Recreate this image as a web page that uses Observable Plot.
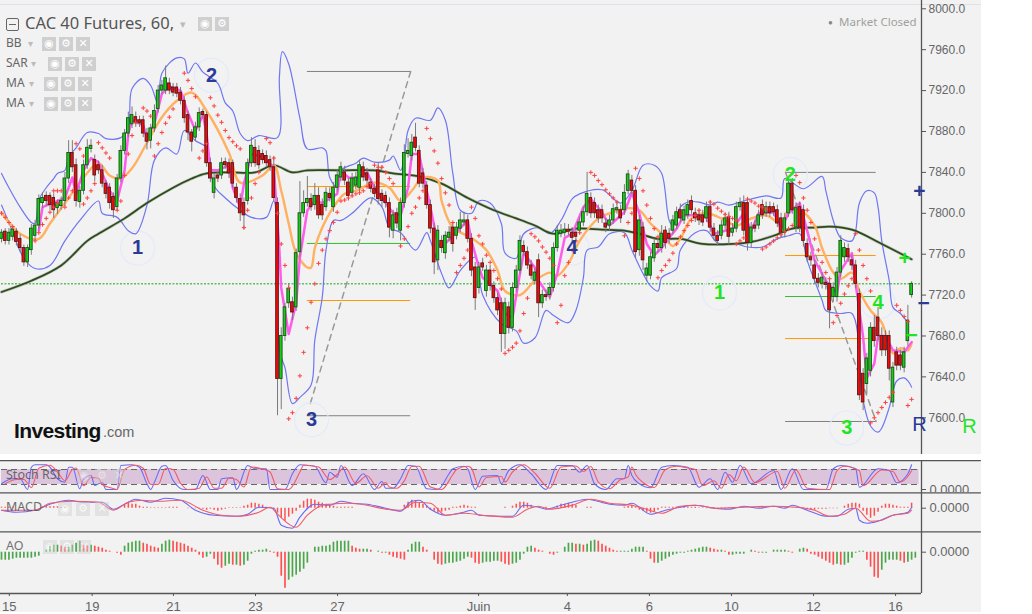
<!DOCTYPE html>
<html>
<head>
<meta charset="utf-8">
<script src="https://cdn.jsdelivr.net/npm/d3@7"></script>
<script src="https://cdn.jsdelivr.net/npm/@observablehq/plot@0.6"></script>
<style>
html,body{margin:0;padding:0;background:#fff;overflow:hidden}
#chart{position:relative;width:1032px;height:614px;background:#fff;overflow:hidden}
#bg{position:absolute;left:0;top:0;width:981px;height:612px;background:#f2f2f2}
#topline{position:absolute;left:0;top:4px;width:981px;height:1px;background:#dde2ea}
#strip{position:absolute;left:0;top:454px;width:1032px;height:6px;background:#fff}
.panel{position:absolute;left:0}
.panel svg{display:block;background:transparent;overflow:hidden}
.lbl{position:absolute;font-family:"Noto Sans",sans-serif;color:#666;white-space:nowrap;line-height:1}
.box{position:absolute;width:14px;height:14px;background:#cfcfcf;color:#fff;font:bold 11px/14px "DejaVu Sans",sans-serif;text-align:center}
</style>
</head>
<body>
<div id="chart"><div id="bg"></div><div id="topline"></div><div id="strip"></div></div>
<script>
const opens=[7775,7782,7773,7777,7782,7775,7766,7752,7764,7778,7788,7810,7817,7817,7815,7805,7807,7812,7834,7859,7847,7811,7822,7847,7863,7852,7847,7842,7829,7825,7816,7806,7834,7861,7878,7887,7894,7891,7891,7878,7871,7883,7902,7920,7920,7927,7923,7923,7918,7910,7896,7879,7874,7884,7899,7896,7849,7820,7837,7837,7850,7849,7849,7825,7814,7810,7812,7849,7864,7861,7858,7856,7852,7845,7810,7638,7680,7712,7713,7708,7762,7800,7810,7814,7808,7817,7808,7806,7819,7806,7825,7835,7840,7830,7820,7827,7825,7845,7839,7830,7824,7842,7819,7817,7810,7783,7800,7783,7810,7858,7856,7874,7861,7839,7827,7808,7785,7754,7773,7761,7776,7786,7778,7785,7791,7793,7775,7747,7727,7751,7724,7744,7729,7717,7712,7682,7708,7688,7727,7744,7768,7762,7749,7734,7754,7712,7720,7720,7727,7766,7780,7781,7784,7781,7781,7783,7791,7801,7815,7810,7803,7803,7790,7788,7793,7803,7803,7803,7822,7832,7822,7764,7786,7739,7739,7756,7770,7766,7783,7780,7783,7788,7803,7793,7798,7812,7800,7798,7798,7795,7806,7785,7778,7778,7788,7796,7781,7785,7806,7810,7810,7771,7788,7788,7808,7800,7806,7806,7803,7795,7781,7800,7829,7786,7806,7803,7770,7757,7749,7736,7731,7732,7731,7718,7718,7742,7757,7765,7754,7749,7721,7643,7633,7646,7688,7698,7680,7680,7680,7615,7664,7661,7649,7675,7720];
const closes=[7781,7773,7781,7784,7772,7766,7752,7766,7785,7788,7814,7815,7812,7808,7803,7810,7812,7834,7859,7845,7812,7822,7847,7864,7866,7837,7842,7829,7819,7810,7803,7834,7861,7878,7893,7896,7888,7888,7878,7870,7883,7900,7920,7925,7932,7920,7918,7917,7910,7893,7879,7870,7884,7898,7896,7849,7834,7834,7834,7849,7847,7839,7829,7815,7800,7798,7849,7866,7849,7847,7852,7849,7845,7815,7638,7680,7708,7726,7703,7761,7800,7810,7814,7806,7817,7798,7798,7820,7815,7825,7837,7845,7832,7817,7834,7835,7847,7835,7832,7824,7819,7814,7812,7810,7786,7798,7790,7810,7859,7861,7869,7864,7829,7829,7808,7785,7752,7783,7766,7778,7781,7770,7786,7793,7793,7775,7744,7717,7747,7747,7744,7729,7717,7705,7682,7712,7688,7727,7744,7773,7762,7749,7739,7742,7712,7720,7718,7727,7766,7783,7783,7784,7782,7776,7777,7791,7801,7819,7800,7800,7795,7795,7786,7793,7804,7805,7795,7820,7838,7822,7762,7793,7754,7746,7757,7770,7766,7780,7771,7775,7793,7801,7795,7803,7808,7803,7795,7793,7791,7806,7786,7778,7773,7788,7795,7777,7785,7806,7810,7783,7771,7786,7785,7798,7798,7806,7800,7801,7790,7781,7795,7829,7803,7805,7786,7773,7757,7754,7736,7732,7737,7730,7705,7727,7742,7773,7766,7757,7749,7731,7622,7615,7658,7688,7675,7680,7666,7666,7648,7649,7651,7651,7664,7695,7731];
const wickUp=[3,3,4,3,3,4,3,3,4,5,4,5,4,3,4,3,4,6,12,12,6,4,5,8,6,5,4,5,3,4,4,4,5,4,6,8,5,4,4,5,4,6,5,5,12,5,4,4,5,4,4,3,5,5,3,3,5,4,4,5,4,4,3,4,5,5,4,8,8,5,4,5,4,10,5,8,4,5,5,4,31,12,22,5,12,8,6,5,6,5,5,5,6,4,5,5,5,5,5,4,4,7,4,4,5,5,5,5,8,12,8,14,5,5,4,5,5,5,5,4,6,5,5,8,8,5,5,5,5,5,5,5,4,5,5,5,5,5,5,5,5,5,5,4,6,5,5,5,5,5,6,6,5,5,5,5,5,21,5,5,5,5,5,5,5,6,5,8,4,5,5,5,5,5,5,5,5,8,4,5,5,5,6,4,5,5,5,5,5,5,6,5,5,5,5,5,5,5,5,7,5,5,5,5,5,5,5,4,5,5,5,6,5,5,5,5,5,5,5,5,5,5,5,5,5,5,5,5,5,5,5,5,5,5,12,10,8,5,5,5,5,5,5,15,2];
const wickDown=[4,4,4,4,4,4,4,5,5,5,4,5,5,5,8,6,4,5,5,5,6,6,4,4,4,6,4,4,5,6,8,4,4,4,4,4,4,4,4,8,8,4,4,4,4,4,4,4,4,5,8,10,4,4,4,4,4,6,4,4,4,5,5,5,8,14,4,4,4,4,4,4,4,4,36,30,5,5,8,4,5,4,4,4,5,4,5,4,4,5,4,4,5,5,4,4,5,4,4,4,4,6,6,5,10,8,5,10,5,4,5,4,4,5,4,5,12,10,5,6,4,8,4,4,4,4,6,12,6,4,6,5,5,5,18,15,6,4,4,4,4,4,4,4,14,5,4,5,4,4,4,4,4,5,5,4,4,4,5,5,5,5,5,5,4,4,5,5,4,4,6,6,10,6,4,4,5,5,6,5,4,4,4,4,4,4,4,5,4,4,5,5,5,4,4,8,4,4,4,5,8,5,4,4,4,4,4,4,4,5,5,4,4,5,5,6,5,6,5,5,5,5,18,5,5,5,5,5,5,5,5,8,10,6,6,5,6,6,12,5,5,5,5,5,3];

const bbUpperBars=[0,2,5,8,9,10,12,14,15,17,18,20,23,26,28,32,34,35,38,40,42,43,47,49,50,52,54,58,60,62,64,66,69,74,74.5,75.3,77,80,82,86,87,88,90,91,95,97,100,104,105,107,108,109,111,115,117,119,121,123,126,128,131,134,135,138,140,144,147,150,153,155,161,166,169,172,175,177,179,180,182,184,187,190,192,195,198,201,205,209,210,215,220,221,223,225,228,229,230,232,234,235,236,238,239,241,243];
const bbUpperVals=[7839,7825,7806,7791,7790,7813,7825,7834,7839,7842,7855,7864,7879,7878,7873,7874,7884,7922,7932,7925,7907,7937,7952,7951,7937,7947,7938,7927,7908,7900,7878,7871,7876,7874,7933,7958,7946,7893,7863,7864,7861,7835,7825,7842,7849,7854,7850,7852,7856,7842,7855,7881,7893,7891,7903,7891,7839,7803,7800,7812,7810,7790,7761,7756,7780,7786,7780,7793,7814,7819,7823,7810,7822,7847,7847,7839,7793,7788,7806,7811,7811,7808,7811,7808,7811,7814,7817,7815,7834,7824,7836,7822,7793,7776,7773,7783,7810,7822,7820,7806,7773,7734,7708,7702,7693];
const bbLowerBars=[0,2,6,9,13,17,21,26,27,31,34,36,39,41,44,47,49,52,55,57,60,64,67,71,73,74.5,76,78,80,83,84,86,87,89,91,94,99,102,104,107,111,114,115,118,120,123,127,129,134,138,140,143,146,148,152,154,156,157,160,163,167,169,172,174,176,177,181,182,186,189,192,197,200,204,208,211,214,216,218,220,221,225,228,231,233,235,236,238,240,242,243,244];
const bbLowerVals=[7808,7791,7756,7746,7749,7773,7793,7812,7800,7796,7783,7780,7808,7852,7864,7858,7881,7871,7864,7827,7815,7803,7796,7796,7812,7666,7649,7614,7620,7632,7676,7718,7764,7793,7793,7800,7815,7806,7786,7781,7764,7781,7773,7741,7727,7744,7757,7720,7692,7685,7673,7678,7705,7700,7693,7705,7737,7764,7767,7780,7781,7764,7741,7729,7724,7737,7746,7764,7781,7783,7771,7770,7767,7767,7775,7778,7780,7754,7734,7715,7705,7702,7702,7617,7592,7586,7590,7610,7636,7639,7636,7630];
const maFastBars=[10,11,17,19,20,22,24,26,27,29,31,33,34,35,38,39,41,43,45,48,50,52,54,55,56,58,61,62,64,65,67,70,73,74.5,75,77,79,80,82,84,86,90,91,93,95,98,100,102,105,107,109,110,112,113,115,117,118,121,125,126,128,129,133,135,137,139,140,143,144,147,149,151,153,156,158,161,163,167,169,171,173,175,177,179,181,183,186,189,191,194,196,199,201,203,207,209,211,214,216,218,221,224,225,228,229,231,232,234,235,237,239,242,244];
const maFastVals=[7783,7806,7815,7835,7819,7842,7854,7850,7839,7822,7812,7842,7878,7891,7886,7874,7888,7917,7924,7920,7898,7881,7896,7878,7842,7842,7847,7825,7806,7829,7858,7855,7845,7764,7727,7682,7712,7757,7803,7812,7810,7819,7842,7835,7834,7840,7825,7815,7800,7798,7825,7858,7858,7839,7806,7770,7767,7778,7793,7773,7747,7737,7724,7702,7698,7741,7761,7747,7734,7718,7741,7776,7780,7806,7814,7801,7788,7801,7820,7800,7770,7759,7766,7776,7785,7798,7798,7796,7780,7783,7785,7800,7783,7800,7801,7785,7800,7810,7783,7754,7734,7722,7744,7761,7731,7679,7639,7653,7680,7680,7666,7664,7674];
const maMidBars=[0,5,10,13,18,22,26,29,32,35,39,43,47,51,55,61,64,70,73,75,77,79,82,83,84,86,89,92,95,100,104,107,110,113,117,118,121,126,130,133,135,139,143,147,149,152,155,160,163,168,171,174,177,180,182,185,189,193,197,201,205,209,211,214,218,220,223,225,228,230,233,236,239,241,243,244];
const maMidVals=[7801,7780,7775,7790,7815,7835,7849,7837,7834,7844,7869,7894,7910,7918,7900,7859,7830,7837,7847,7822,7790,7761,7747,7747,7766,7786,7806,7819,7822,7830,7825,7812,7822,7835,7832,7812,7786,7776,7764,7744,7724,7720,7734,7742,7739,7751,7773,7795,7800,7805,7803,7790,7780,7768,7775,7795,7800,7795,7788,7795,7798,7790,7803,7803,7788,7766,7742,7736,7742,7724,7705,7693,7663,7668,7666,7673];
const maSlowBars=[0,8,16,23,26,33,39,46,51,55,61,68,73,78,82,91,100,105,112,118,125,132,138,143,148,154,161,167,171,176,182,188,196,201,207,212,218,222,228,236,244];
const maSlowVals=[7723,7734,7749,7773,7780,7795,7810,7825,7834,7839,7840,7840,7847,7840,7842,7842,7842,7839,7836,7829,7815,7803,7795,7788,7780,7785,7784,7783,7780,7775,7775,7770,7770,7772,7778,7785,7786,7787,7784,7770,7755];
const sarRuns=[[0,7800,7796,7791,7787],[9,7773,7781,7789,7795,7801,7806,7810],[14,7822,7822,7822],[17,7806,7815,7822],[20,7868,7863,7856],[22,7809,7815,7822,7829],[26,7869,7864,7859,7854],[31,7803,7812,7837,7858,7876,7889],[38,7903,7900,7895],[41,7856,7868,7879,7888,7894,7902],[49,7937,7930,7922,7914],[53,7854,7861,7868],[56,7913,7905,7896,7889,7881,7874,7870,7866,7863],[65,7786,7803,7815,7829,7840],[71,7873,7869,7854],[74,7800,7770,7749,7727],[77,7599,7605,7619,7641,7664,7688,7713,7731,7751,7764,7775,7783,7791,7801],[91,7812,7813,7815,7817,7819,7820,7822,7826,7829],[100,7847,7845,7845,7840,7834,7829],[107,7768,7775,7787,7800,7806,7815,7822],[114,7883,7873,7861,7849,7834,7820,7808,7791],[122,7742,7749,7756,7764],[126,7806,7795,7778,7770,7759,7752,7744,7736,7726],[135,7663,7666,7669,7673,7685,7702,7717],[142,7780,7777,7773,7767,7762,7756,7749],[149,7693,7710,7739,7752,7764,7773,7781],[158,7840,7837,7832,7828,7823,7819,7815,7811],[167,7778,7791,7800],[170,7844,7834,7822,7808,7795,7785,7777],[176,7737,7744,7749,7754,7761,7770,7777,7783,7788,7793,7798,7803],[190,7811,7809,7805,7802,7799,7797,7795,7793],[197,7770,7773,7776],[200,7814,7812,7810,7807,7806,7804],[204,7765,7767,7770,7773,7776,7779,7782,7785,7788],[213,7837,7830,7815,7803,7791,7775,7764,7752,7742,7736],[223,7693,7700,7712,7721,7729,7736],[229,7780,7764,7749,7736,7724],[233,7595,7600,7605,7610,7615,7620,7625],[240,7710,7705,7699,7694],[243,7612,7618]];

const fibLeftBars=[82,109.7], fibRightBars=[210.2,234.5];
const fibLeftPrices=[7938.7,7826.2,7770.5,7714.7,7602];
const fibRightPrices=[7840,7758.7,7718.6,7677.5,7596.4];
const fibColors=["#808080","#ff9900","#33bb33","#ff9900","#808080"];
const lastPrice=7731;
const wavesNavy=[["1",36.5,7766],["2",56.3,7935],["3",83.1,7598],["4",153,7766]];
const wavesGreen=[["2",211.5,7838],["1",192.5,7722],["3",226.6,7590],["4",235,7713]];
const signsNavy=[["+",246.1,7822],["−",247.2,7712]];
const signsGreen=[["+",242.1,7756],["−",244,7681]];
const flagNavy=[["R",246.1,7593]];
const flagGreen=[["R",259.5,7591]];
const priceTicks=[8000,7960,7920,7880,7840,7800,7760,7720,7680,7640,7600];

const stochKBars=[0,3,5,7,8,9,12,13,15,17,18,19,21,22,24,25,27,28,31,32,35,37,39,40,41,43,44,46,49,52,54,56,58,59,62,63,66,68,71,72,76,78,80,84,87,88,90,91,94,97,100,102,103,105,107,109,111,114,117,120,121,124,125,127,129,133,134,136,139,142,146,149,153,155,157,159,162,165,167,168,169,171,174,177,180,184,187,190,192,194,196,198,201,207,209,212,215,221,223,225,229,230,235,238,240,243,244];
const stochKVals=[23,43,43,0,89,99,99,89,43,29,89,89,3,43,56,16,29,0,0,96,99,89,23,0,29,93,96,36,0,0,56,0,0,43,47,0,96,83,83,0,0,63,99,93,27,69,49,96,16,63,0,32,5,5,43,96,93,3,0,63,83,93,83,0,53,56,23,76,99,63,0,96,96,69,96,23,0,43,43,96,56,23,7,89,96,89,9,43,0,69,29,96,23,76,0,83,0,0,83,96,83,9,83,76,27,63,99];
const stochDBars=[1,4,6,8,10,13,15,17,19,20,22,24,26,27,29,31,33,36,38,40,42,44,46,48,50,53,55,57,59,61,63,65,67,70,72,74,77,80,81,85,88,90,92,95,98,101,103,104,106,108,110,112,115,118,121,122,125,126,128,130,134,135,137,140,143,147,150,154,156,158,160,163,166,168,169,170,172,175,178,181,184,186,188,191,193,195,197,199,202,208,210,213,216,222,224,226,230,231,236,239,241,243,244];
const stochDVals=[23,40,40,8,85,97,70,35,80,86,15,48,45,20,8,0,80,97,85,20,20,85,80,25,0,5,50,5,5,45,40,10,90,82,70,3,0,70,97,90,40,60,90,25,55,5,28,10,5,35,92,93,10,0,60,80,93,85,10,48,52,30,70,99,65,5,90,94,72,92,30,3,40,50,90,60,28,8,80,93,86,80,15,35,5,60,35,90,28,72,5,78,5,0,75,93,75,15,78,72,30,52,75];

const macdBars=[0,4,9,13,18,22,27,30,33,36,40,44,48,52,57,63,66,69,73,75,78,80,84,88,91,94,98,103,107,110,112,115,119,124,126,128,134,137,140,144,146,150,153,157,163,167,169,174,178,182,186,191,195,199,203,207,210,212,216,221,224,227,229,230,232,235,239,243,244];
const macdVals=[-2,-4,-2,4,8,6,6,-1,4,9,6,10,8,-2,-7,-8,-6,1,0,-17,-20,-9,4,3,7,5,4,0,-3,7,8,-1,-7,-4,-2,-7,-8,-8,3,1,-1,3,6,9,4,3,5,-6,-2,1,3,0,-1,2,0,2,0,3,-2,-8,-8,-1,0,-12,-15,-13,-7,-4,1];
const signalBars=[0,5,9,13,19,26,30,34,38,42,48,54,59,64,69,72,74,79,82,86,88,93,98,103,107,111,115,119,124,129,137,141,144,147,153,158,163,169,172,177,182,186,192,199,207,213,218,222,226,229,233,236,239,243,244];
const signalVals=[-2,-2,-2,5,7,6,-2,6,8,7,8,-2,-7,-8,-4,1,-6,-19,-7,3,4,5,3,-1,-2,6,5,-7,-5,-7,-9,-1,2,-1,3,9,5,3,0,-5,2,3,0,1,2,1,-2,-8,-6,0,-13,-12,-7,-5,-2];
const macdHistRuns=[[0,1,1,1,1],[11,1.5,1.5,1.5,1.5,1.5,.7,.7],[33,3,5,4,4,2,1,1,.5,.5,.5,.5,.5,1,1,1],[50,-.5,-.5,-.5,-.5,-1,-2,-1,-2,-3,-2,-1,.5,.5,.5,.5],[65,2,3,5,5,4,3,1,.5,-1,-5,-10,-13,-9,-6,-3,3,7,9,9,8,6,5,4,3,2,1,1,1,1,1],[108,3,6,8,7,5,4,2,-2,-3,-5,-4,-3,-2],[121,1,1,2,3,2,1,1],[135,1],[137,2,4,6,6,5,3],[146,1],[149,2,4,4,5,4,3],[157,1,1],[167,1,2,3,1,-2,-3,-4,-5,-4,-2,1,1,1,1,1,1,1,1,1,1],[186,.5,.5,.5,-.5,-.5,.5,.5,.5,.5,.5,-.5,.5,.5,.5,.5,.5,.5,.5,-.5],[210,.5,.5,.5,.5,.5,.5,-1.5,-2,-2,-1,-1,-1,-.5,-.5,-.5],[226,2,4,5,5,4,-3,-7,-10,-8,-4,2,4,4,3,2,1,1,1,5]];
const aoVals=[-8,-8,-8,-7,-6,-6,-6,-6,-6,-5,-4,0,2,6,7,7,6,5,5,7,9,11,7,6,7,6,5,4,2,1,0,-1,-3,6,9,10,11,11,9,8,6,5,4,8,11,12,11,10,9,8,6,4,2,-3,-6,-5,-2,-7,-13,-16,-14,-12,-13,-13,-14,-13,-9,-2,1,2,2,3,1,-1,-5,-24,-36,-28,-25,-23,-20,-17,-11,0,5,5,6,6,7,10,11,11,11,11,6,4,3,3,3,2,0,1,-1,-1,-3,-5,-6,-7,-8,2,8,10,10,5,2,0,-8,-12,-13,-12,-11,-11,-10,-9,-7,-5,-6,-11,-12,-11,-10,-10,-9,-9,-10,-12,-13,-12,-11,-8,-2,5,6,4,2,1,0,-2,-3,-1,0,5,9,9,8,8,7,8,11,12,11,8,6,4,2,1,1,1,1,3,5,5,5,1,-7,-11,-11,-9,-7,-5,-3,-2,-1,-1,1,2,3,4,5,5,4,3,2,2,1,-3,-3,-2,-2,-2,0,2,1,-1,-1,-1,0,2,2,2,2,1,-1,0,3,4,3,-2,-3,-5,-7,-9,-11,-13,-12,-13,-13,-11,-6,-1,1,1,-8,-15,-25,-26,-18,-11,-8,-8,-8,-9,-11,-10,-8,-6,0];
const xTickBars=[2.1,24.3,46.1,68.1,90.1,127.9,151.7,173.7,195.7,217.7,239.7];
const xTickLabels=["15","19","21","23","27","Juin","4","6","10","12","16"];

const XDOMAIN=[-0.268,246.65], XEND=262.7;
const AXISFONT='"Liberation Sans",Arial,sans-serif';
const candles=opens.map((o,i)=>({i,o,c:closes[i],h:Math.max(o,closes[i])+wickUp[i],l:Math.min(o,closes[i])-wickDown[i]}));
const pts=(b,v)=>b.map((x,k)=>({x,y:v[k]}));
const runs=r=>r.flatMap(([s,...v])=>v.map((y,k)=>({x:s+k,y})));
const GREEN="#12d012",RED="#ee0c0c";

function mount(top,plot){const d=document.createElement("div");d.className="panel";d.style.top=top+"px";d.appendChild(plot);document.getElementById("chart").appendChild(d);}
function panel(height,yDomain,marks,extra={}){
  return Plot.plot({width:1032,height,marginLeft:0,marginTop:0,marginBottom:extra.marginBottom||0,marginRight:111,
    x:{type:"linear",domain:XDOMAIN,axis:null},y:{type:"linear",domain:yDomain,axis:null},
    style:{background:"transparent",fontFamily:AXISFONT},marks});
}
const fibMarks=(bars,prices)=>prices.map((p,k)=>Plot.ruleY([p],{x1:bars[0],x2:bars[1],stroke:fibColors[k],strokeWidth:1}));
const valAxis=(v)=>Plot.axisY([v],{anchor:"right",tickSize:4,tickPadding:4,fontSize:13,stroke:"#555",fill:"#666",tickFormat:d=>d.toFixed(4),label:null});

const main=panel(454,[7564.1,8008.1],[
  Plot.ruleX([XDOMAIN[1]],{stroke:"#555",strokeWidth:1.3}),
  Plot.axisY({anchor:"right",ticks:priceTicks,tickSize:4,tickPadding:3,fontSize:12,stroke:"#555",fill:"#666",tickFormat:d=>d.toFixed(1),label:null}),
  Plot.ruleY([lastPrice],{x1:0,x2:XDOMAIN[1],stroke:"#11a811",strokeDasharray:"2,1.5"}),
  ...fibMarks(fibLeftBars,fibLeftPrices),...fibMarks(fibRightBars,fibRightPrices),
  Plot.line([[fibLeftBars[0]+.8,7614],[fibLeftBars[1],fibLeftPrices[0]]],{x:"0",y:"1",stroke:"#999",strokeDasharray:"6,5"}),
  Plot.line([[fibRightBars[0],fibRightPrices[0]],[fibRightBars[1],fibRightPrices[4]]],{x:"0",y:"1",stroke:"#999",strokeDasharray:"6,5"}),
  Plot.dot(wavesNavy.concat(wavesGreen),{x:"1",y:"2",r:17,stroke:"#e4eafb",strokeWidth:1.2,fill:"none"}),
  Plot.line(pts(bbUpperBars,bbUpperVals),{x:"x",y:"y",stroke:"#6f76f2",strokeWidth:1.2,curve:"catmull-rom"}),
  Plot.line(pts(bbLowerBars,bbLowerVals),{x:"x",y:"y",stroke:"#6f76f2",strokeWidth:1.2,curve:"catmull-rom"}),
  Plot.line(pts(maSlowBars,maSlowVals),{x:"x",y:"y",stroke:"#8f9e86",strokeWidth:3,strokeOpacity:.55,curve:"catmull-rom"}),
  Plot.line(pts(maSlowBars,maSlowVals),{x:"x",y:"y",stroke:"#2c4a1c",strokeWidth:1.7,curve:"catmull-rom"}),
  Plot.line(pts(maMidBars,maMidVals),{x:"x",y:"y",stroke:"#ffb060",strokeWidth:2.4,curve:"catmull-rom"}),
  Plot.line(pts(maFastBars,maFastVals),{x:"x",y:"y",stroke:"#ff5cec",strokeWidth:2.5}),
  Plot.ruleX(candles,{x:"i",y1:"l",y2:"h",stroke:"#7a7a7a",strokeWidth:1}),
  Plot.rect(candles,{x1:d=>d.i-.36,x2:d=>d.i+.36,y1:"o",y2:"c",fill:d=>d.c>=d.o?GREEN:RED,stroke:d=>d.c>=d.o?"#1d4d1d":"#5a1414",strokeWidth:.9}),
  Plot.dot(runs(sarRuns),{x:"x",y:"y",symbol:"plus",r:1.5,stroke:"#ff4040",strokeWidth:1}),
  Plot.text(wavesNavy,{x:"1",y:"2",text:"0",fill:"#2b3a96",fontSize:20,fontWeight:"bold"}),
  Plot.text(wavesGreen,{x:"1",y:"2",text:"0",fill:"#1fe61f",fontSize:20,fontWeight:"bold"}),
  Plot.text(signsNavy,{x:"1",y:"2",text:"0",fill:"#2b3a96",fontSize:21,fontWeight:"bold"}),
  Plot.text(signsGreen,{x:"1",y:"2",text:"0",fill:"#1fe61f",fontSize:21,fontWeight:"bold"}),
  Plot.text(flagNavy,{x:"1",y:"2",text:"0",fill:"#2b3a96",fontSize:20}),
  Plot.text(flagGreen,{x:"1",y:"2",text:"0",fill:"#1fe61f",fontSize:20})
]);
mount(0,main);

const hline=(y,end=XEND)=>Plot.ruleY([y],{x1:XDOMAIN[0],x2:end,stroke:"#555",strokeWidth:1.3});
const stoch=panel(32,[-12,116],[
  hline(115.4),
  Plot.ruleX([XDOMAIN[1]],{stroke:"#555",strokeWidth:1.3}),
  Plot.rect([{a:20,b:80}],{x1:0,x2:246,y1:"a",y2:"b",fill:"#dcc4dd"}),
  Plot.ruleY([80,20],{x1:0,x2:246,stroke:"#666",strokeDasharray:"6,4"}),
  valAxis(0),
  Plot.line(pts(stochKBars,stochKVals),{x:"x",y:"y",stroke:"#6a6af5",strokeWidth:1.1,curve:"monotone-x"}),
  Plot.line(pts(stochDBars,stochDVals),{x:"x",y:"y",stroke:"#f25a6a",strokeWidth:1.1,curve:"monotone-x"})
]);
mount(460,stoch);

const macd=panel(39,[-23.3,15.7],[
  hline(15.4),
  Plot.ruleX([XDOMAIN[1]],{stroke:"#555",strokeWidth:1.3}),
  valAxis(0),
  Plot.ruleX(runs(macdHistRuns),{x:"x",y1:0,y2:"y",stroke:"#ff5050",strokeWidth:1.5}),
  Plot.line(pts(macdBars,macdVals),{x:"x",y:"y",stroke:"#6a6af5",strokeWidth:1.1,curve:"monotone-x"}),
  Plot.line(pts(signalBars,signalVals),{x:"x",y:"y",stroke:"#f25a6a",strokeWidth:1.1,curve:"monotone-x"})
]);
mount(492,macd);

const aoData=aoVals.map((v,i)=>({i,v,up:i===0||v>=aoVals[i-1]}));
const ao=panel(82,[-41.3,20.7],[
  hline(20.4),
  Plot.ruleX([XDOMAIN[1]],{stroke:"#555",strokeWidth:1.3}),
  valAxis(0),
  Plot.ruleX(aoData,{x:"i",y1:0,y2:"v",stroke:d=>d.up?"#4ca64c":"#ff5050",strokeWidth:1.7}),
  Plot.ruleY([-41.3],{x1:XDOMAIN[0],x2:XDOMAIN[1],stroke:"#555",strokeWidth:1.3}),
  Plot.axisX({anchor:"bottom",ticks:xTickBars,tickSize:3,tickPadding:5,fontSize:13,stroke:"#555",fill:"#666",label:null,
    tickFormat:d=>xTickLabels[xTickBars.indexOf(d)]})
],{marginBottom:20});
mount(531,ao);

// overlay legends
const chart=document.getElementById("chart");
function lbl(text,x,cy,size,color,opacity){const d=document.createElement("div");d.className="lbl";d.textContent=text;d.style.left=x+"px";d.style.top=(cy-size/2-1)+"px";d.style.fontSize=size+"px";if(color)d.style.color=color;if(opacity)d.style.opacity=opacity;chart.appendChild(d);return d;}
function boxes(xs,y,glyphs,opacity){xs.forEach((x,k)=>{const b=document.createElement("div");b.className="box";b.textContent=glyphs[k];b.style.left=x+"px";b.style.top=y+"px";if(opacity)b.style.opacity=opacity;chart.appendChild(b);});}
const G=["◉","⚙","✕"];
const t=document.createElement("div");t.style.cssText="position:absolute;left:6px;top:18px;width:11px;height:11px;border:1px solid #666;border-radius:2px;";
const tm=document.createElement("div");tm.style.cssText="position:absolute;left:2px;top:5px;width:7px;height:1px;background:#666";t.appendChild(tm);chart.appendChild(t);
lbl("CAC 40 Futures, 60,",25,24,16.5,"#555");
lbl("▾",180,24,11,"#bbb");
boxes([198,215],17,G);
[["BB",6,44,28,[42,59,76]],["SAR",6,64,31,[48,65,82]],["MA",6,84,29,[44,61,78]],["MA",6,104,29,[44,61,78]]].forEach(([s,x,cy,cx,bx])=>{
  lbl(s,x,cy,12,"#666");lbl("▾",cx,cy,10,"#bbb");boxes(bx,cy-7,G);
});
const inv=lbl("Investing",14,431,21,"#111");inv.style.fontFamily='"Liberation Sans",Arial,sans-serif';inv.style.fontWeight="bold";inv.style.letterSpacing="-0.6px";
const com=lbl(".com",103,433,14.5,"#666");com.style.fontFamily='"Liberation Sans",Arial,sans-serif';
lbl("●",828,23,8,"#888");
lbl("Market Closed",839,23,11.5,"#a0a0a0");
lbl("Stoch RSI",6,476,12.5,"#555",.85);boxes([77,95,112],469,G,.45);
lbl("MACD",6,508,12.5,"#555",.85);boxes([58,76,95],502,G,.45);
lbl("AO",6,547,12.5,"#666",.9);boxes([43,60,77],540,G,.45);
</script>
</body>
</html>
